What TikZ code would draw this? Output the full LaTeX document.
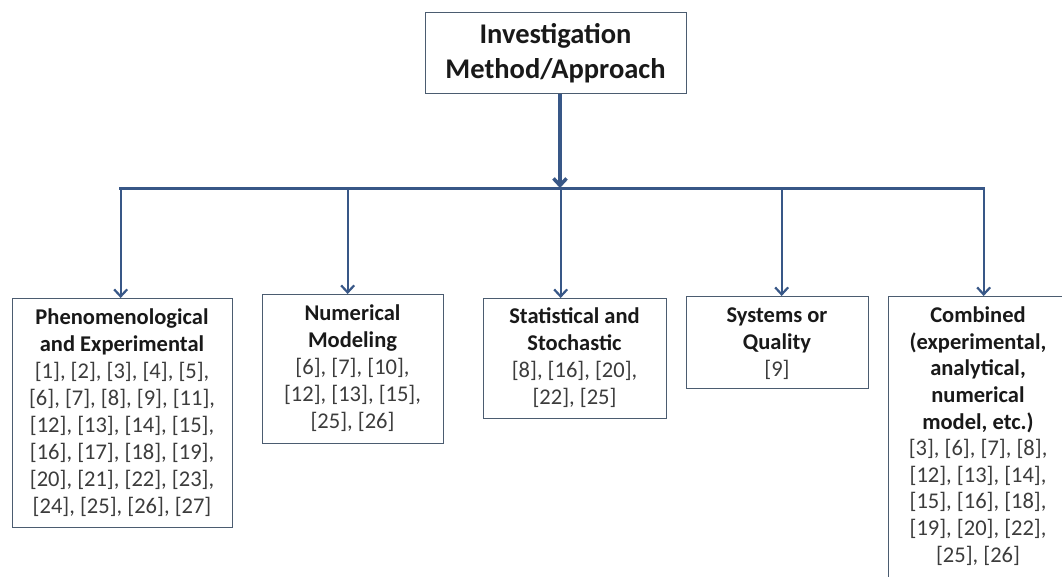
\documentclass[tikz,border=0pt]{standalone}
\usepackage{fontspec}
\setmainfont{Carlito}
\usetikzlibrary{arrows.meta}
\definecolor{linec}{RGB}{56,87,135}
\definecolor{boxc}{RGB}{75,92,112}
\definecolor{headc}{RGB}{25,25,25}
\definecolor{refc}{RGB}{60,60,60}
\newcommand\hd[1]{\textcolor{headc}{\bfseries #1}}
\begin{document}
\begin{tikzpicture}[x=1pt,y=-1pt,
  box/.style={draw=boxc, line width=1.3pt, fill=white, inner sep=0pt, anchor=north west},
  txt/.style={align=center, inner sep=0pt, anchor=base, font=\fontsize{22.5}{27}\selectfont, text=refc},
  conn/.style={draw=linec, line width=2.2pt},
  arr/.style={conn, -{Straight Barb[length=7pt,width=13pt]}}]
\clip (0,0) rectangle (1062,576);
\fill[white] (0,0) rectangle (1062,576);
% boxes
\node[box, minimum width=261pt, minimum height=81pt] (top) at (425,12) {};
\node[box, minimum width=220pt, minimum height=229pt] (b1) at (12,298) {};
\node[box, minimum width=181pt, minimum height=149pt] (b2) at (262,294) {};
\node[box, minimum width=183pt, minimum height=120pt] (b3) at (483,298) {};
\node[box, minimum width=182pt, minimum height=92pt] (b4) at (686,296) {};
\node[box, minimum width=180pt, minimum height=310pt] (b5) at (888,296) {};
% texts (anchored at the baseline of their last line)
\node[txt, font=\fontsize{28.5}{35}\selectfont\bfseries, text=headc] (t0) at (555.5,78) {Investigation\\Method/Approach};
\node[txt] (t1) at (122,513) {\hd{Phenomenological}\\\hd{and Experimental}\\{}[1], [2], [3], [4], [5],\\{}[6], [7], [8], [9], [11],\\{}[12], [13], [14], [15],\\{}[16], [17], [18], [19],\\{}[20], [21], [22], [23],\\{}[24], [25], [26], [27]};
\node[txt] (t2) at (352.5,428) {\hd{Numerical}\\\hd{Modeling}\\{}[6], [7], [10],\\{}[12], [13], [15],\\{}[25], [26]};
\node[txt] (t3) at (574.5,404) {\hd{Statistical and}\\\hd{Stochastic}\\{}[8], [16], [20],\\{}[22], [25]};
\node[txt] (t4) at (777,376) {\hd{Systems or}\\\hd{Quality}\\{}[9]};
\node[txt, font=\fontsize{22.5}{26.6}\selectfont] (t5) at (978,562) {\hd{Combined}\\\hd{(experimental,}\\\hd{analytical,}\\\hd{numerical}\\\hd{model, etc.)}\\{}[3], [6], [7], [8],\\{}[12], [13], [14],\\{}[15], [16], [18],\\{}[19], [20], [22],\\{}[25], [26]};
% connectors
\coordinate (hub) at (560,188);
\coordinate (e1) at ([xshift=-2pt]b1.north);
\coordinate (e2) at ([xshift=-5.5pt]b2.north);
\coordinate (e3) at ([xshift=-14.5pt]b3.north);
\coordinate (e4) at ([xshift=4pt]b4.north);
\coordinate (e5) at ([xshift=5pt]b5.north);
\draw[arr, line width=3.5pt] (top.south -| hub) -- (hub);
\draw[conn, line width=3pt, line cap=rect] (e1 |- hub) -- (e5 |- hub);
\foreach \e in {e1,e2,e3,e4,e5}{\draw[arr] (\e |- hub) -- (\e);}
\end{tikzpicture}
\end{document}
